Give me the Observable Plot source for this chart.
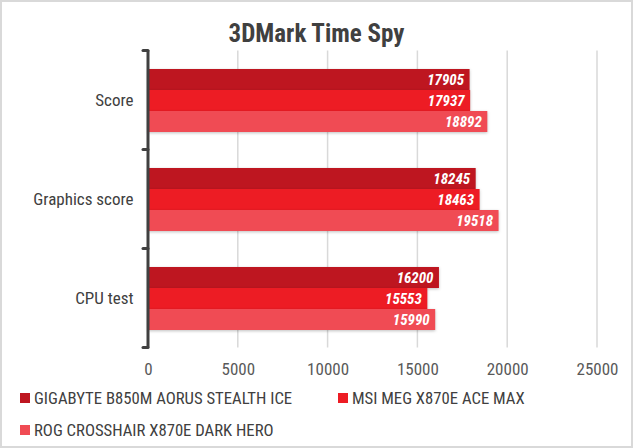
<!DOCTYPE html>
<html>
<head>
<meta charset="utf-8">
<script src="https://cdn.jsdelivr.net/npm/d3@7"></script>
<script src="https://cdn.jsdelivr.net/npm/@observablehq/plot@0.6"></script>
<style>
  html, body { margin: 0; padding: 0; background: #fff; }
  #wrap {
    width: 633px; height: 448px; box-sizing: border-box;
    border: 2px solid #d9d9d9; position: relative; overflow: hidden;
    font-family: "Roboto Condensed", "Liberation Sans Narrow", Roboto, sans-serif;
  }
  #title {
    text-align: center; font-weight: bold; font-size: 25px; color: #404040;
    margin-top: 17px; height: 29px; line-height: 29px;
  }
  #legend { margin-left: 18px; margin-top: 2px; font-size: 16.7px; color: #404040; }
  #legend .row { display: flex; height: 32px; align-items: center; }
  #legend .item { display: flex; align-items: center; }
  #legend .sw { width: 10px; height: 10px; margin-right: 4px; }
  svg .bars rect { filter: drop-shadow(0px 1px 1.5px rgba(0,0,0,0.25)); }
</style>
</head>
<body>
<div id="wrap">
  <div id="title">3DMark Time Spy</div>
  <div id="chart"></div>
  <div id="legend"></div>
</div>
<script>
const categories = ["Score", "Graphics score", "CPU test"];
const series = ["GIGABYTE B850M AORUS STEALTH ICE", "MSI MEG X870E ACE MAX", "ROG CROSSHAIR X870E DARK HERO"];
const colors = ["#be1620", "#ed1c24", "#f04b54"];
const gigabyte = [17905, 18245, 16200];
const msi = [17937, 18463, 15553];
const rog = [18892, 19518, 15990];
const xTicks = [0, 5000, 10000, 15000, 20000, 25000];

const values = [gigabyte, msi, rog];
const data = [];
categories.forEach((c, i) => series.forEach((s, j) => data.push({category: c, series: s, value: values[j][i]})));

const font = '"Roboto Condensed", "Liberation Sans Narrow", Roboto, sans-serif';

const chart = Plot.plot({
  width: 629,
  height: 332,
  marginTop: 2,
  marginBottom: 32,
  marginLeft: 146,
  marginRight: 34,
  style: {fontFamily: font, fontSize: "17px", color: "#595959", background: "#fff"},
  x: {domain: [0, 25000], ticks: xTicks, tickFormat: "d", label: null},
  fy: {domain: categories, paddingInner: 0.35, paddingOuter: 0.18, label: null},
  y: {domain: series, padding: 0, axis: null},
  color: {domain: series, range: colors},
  marks: [
    Plot.axisX({ticks: xTicks, tickFormat: "d", tickSize: 0, tickPadding: 32, fill: "#595959", fontSize: 17}),
    Plot.axisFy({tickSize: 0, tickPadding: 15, fill: "#404040", fontSize: 17, anchor: "left"}),
    Plot.barX(data, {x: "value", y: "series", fy: "category", fill: "series", className: "bars"}),
    Plot.text(data, {x: "value", y: "series", fy: "category", text: d => String(d.value),
      textAnchor: "end", dx: -6, fill: "white", fontWeight: "bold", fontStyle: "italic", fontSize: 15})
  ]
});
document.getElementById("chart").appendChild(chart);

// Full-height gridlines, left axis line and category-boundary ticks, positioned from the scales
const fyScale = chart.scale("fy");
const xScale = chart.scale("x");
const svgSel = d3.select(chart);
const bandStep = fyScale.step;
const xZero = xScale.apply(0);
const bandCenters = categories.map(c => fyScale.apply(c) + fyScale.bandwidth / 2);
const bandBounds = [bandCenters[0] - bandStep / 2, ...bandCenters.map(c => c + bandStep / 2)];
const frameTop = bandBounds[0], frameBottom = bandBounds[bandBounds.length - 1];
const gridG = svgSel.insert("g", ":first-child").attr("stroke", "#d9d9d9").attr("stroke-width", 1.5);
xTicks.filter(t => t > 0).forEach(t => {
  const x = xScale.apply(t);
  gridG.append("line").attr("x1", x).attr("x2", x).attr("y1", frameTop).attr("y2", frameBottom);
});
const axisG = svgSel.append("g").attr("stroke", "#404040").attr("stroke-width", 3).attr("stroke-linecap", "round");
axisG.append("line").attr("x1", xZero).attr("x2", xZero).attr("y1", frameTop).attr("y2", frameBottom).attr("stroke-linecap", "butt");
bandBounds.forEach(b => axisG.append("line").attr("x1", xZero - 5).attr("x2", xZero).attr("y1", b).attr("y2", b));

// Legend
const legendRows = [[0, 1], [2]];
const legendSel = d3.select("#legend");
legendRows.forEach(r => {
  const row = legendSel.append("div").attr("class", "row");
  r.forEach((j, k) => {
    const it = row.append("div").attr("class", "item").style("width", k === 0 ? "318px" : null);
    it.append("div").attr("class", "sw").style("background", colors[j]);
    it.append("span").text(series[j]);
  });
});
</script>
</body>
</html>
